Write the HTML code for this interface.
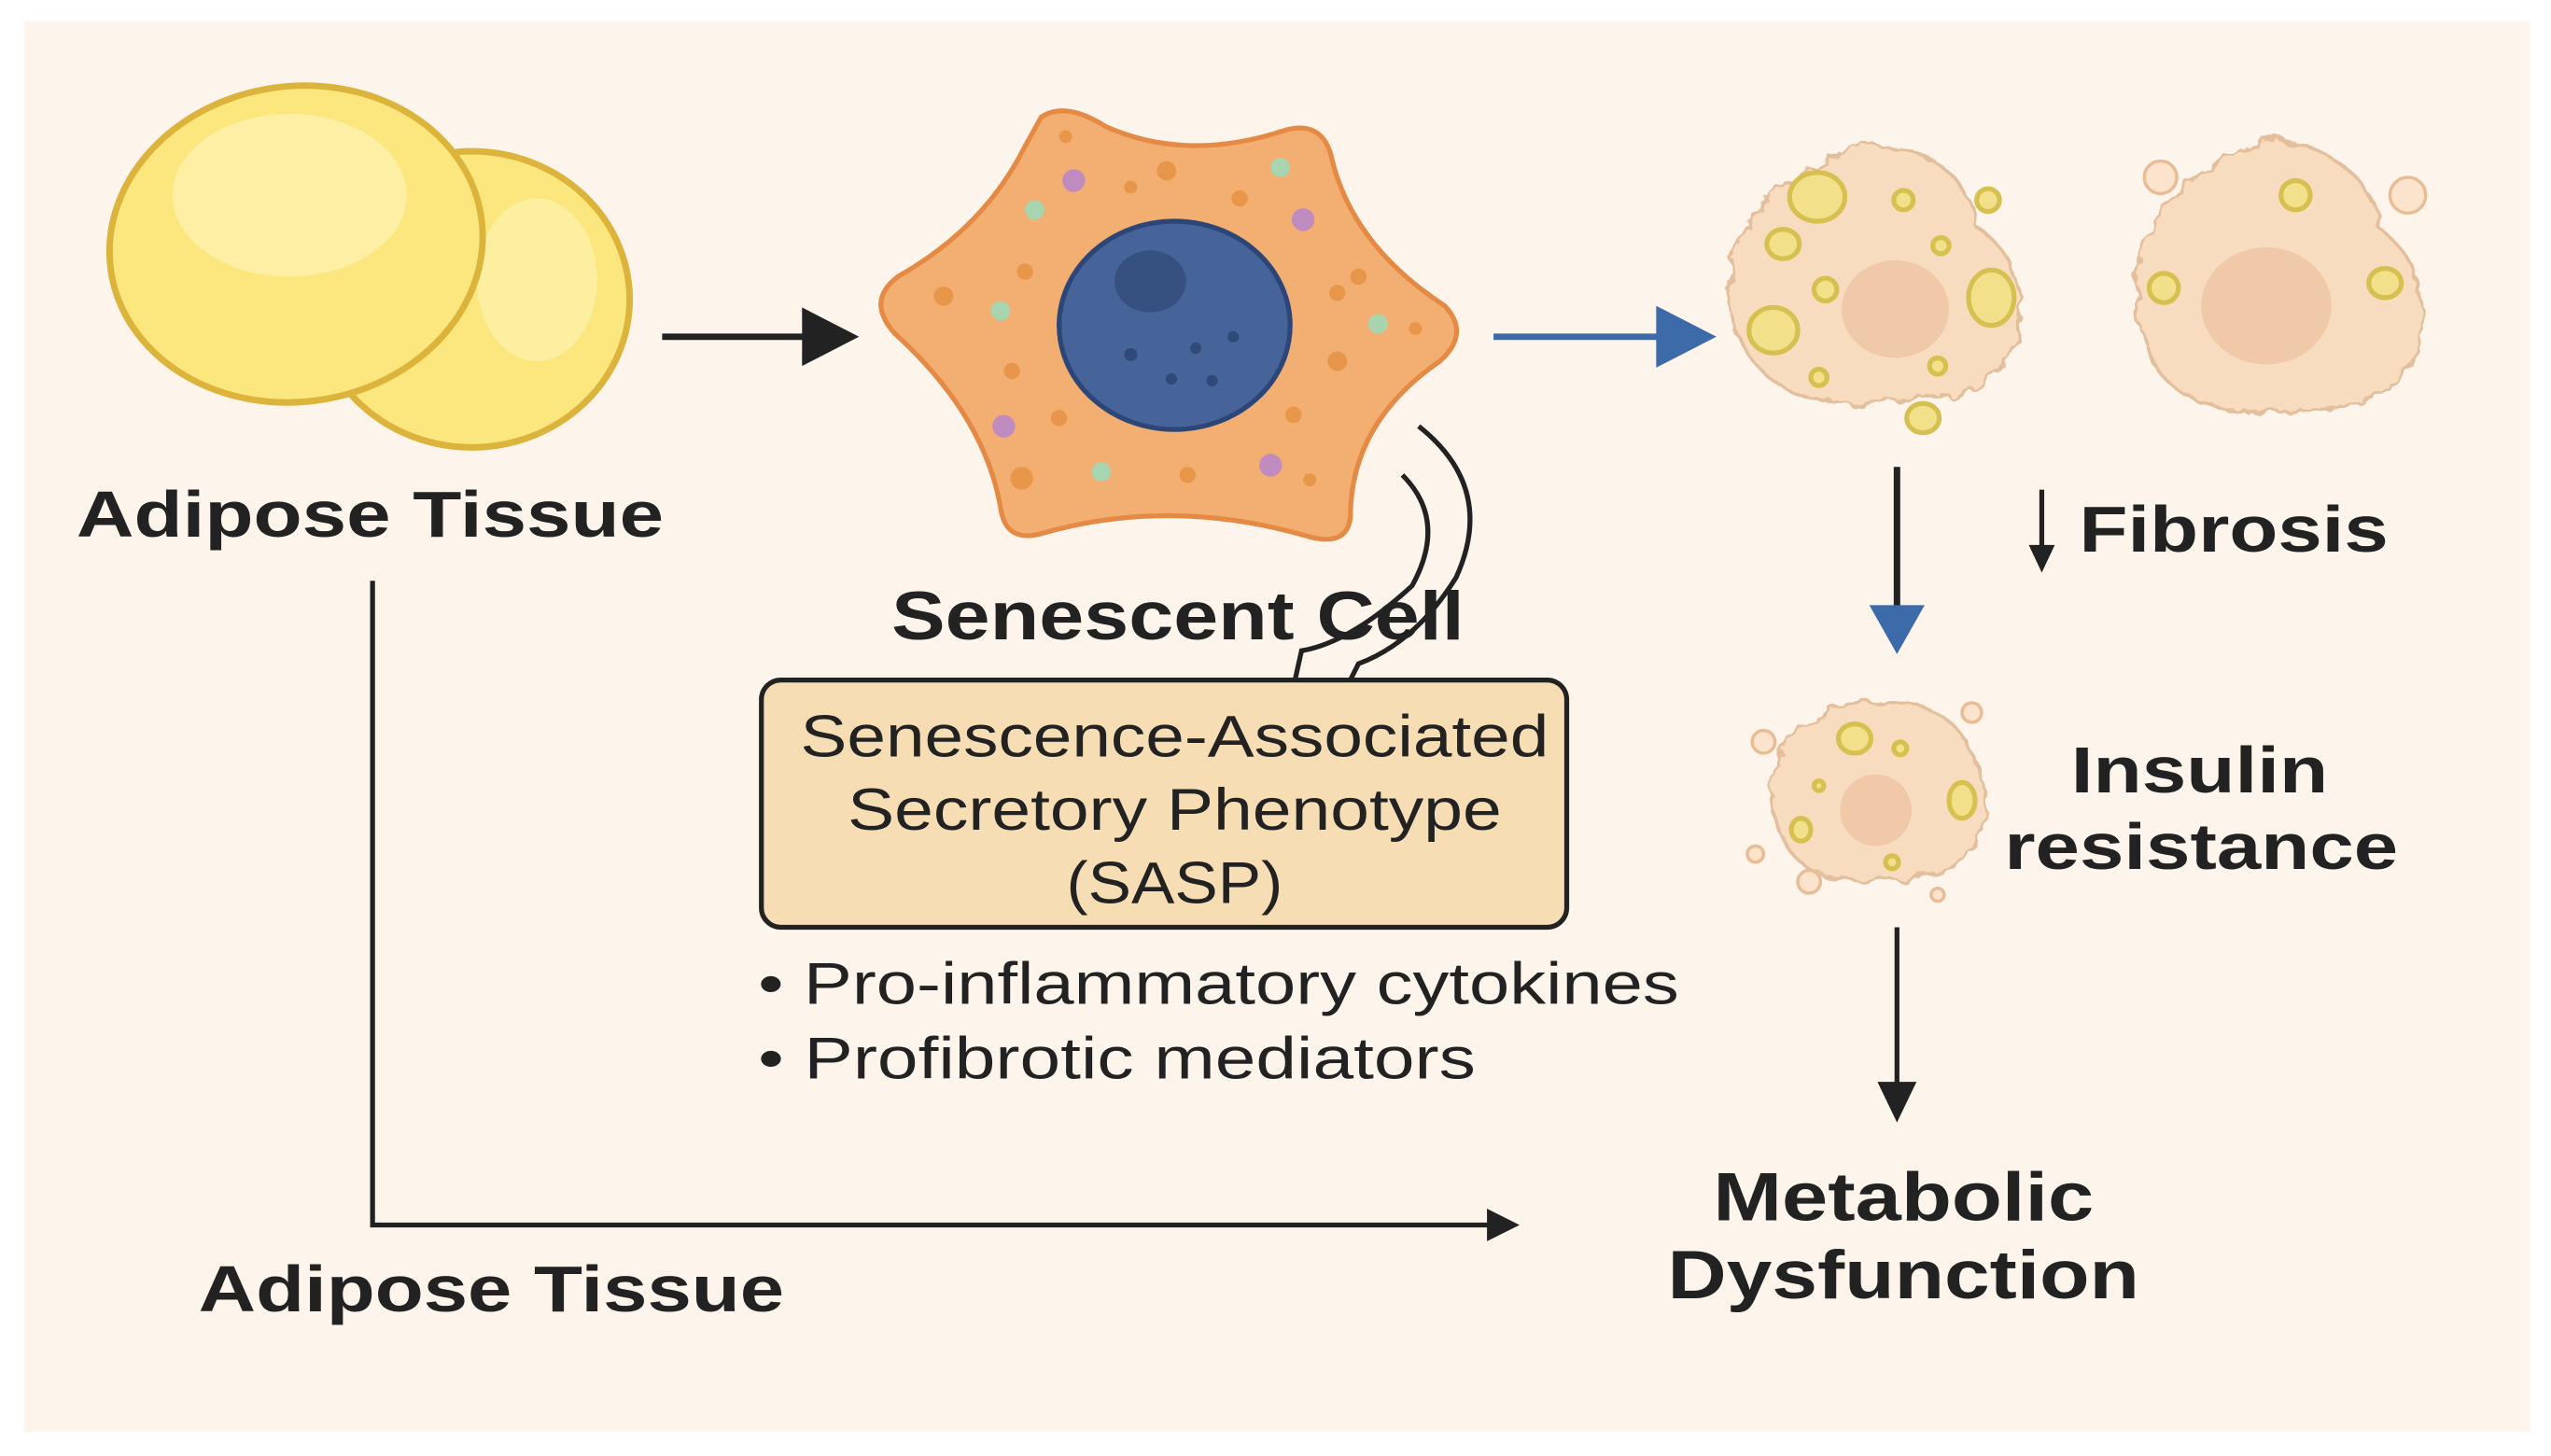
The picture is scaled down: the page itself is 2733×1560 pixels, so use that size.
<!DOCTYPE html>
<html><head><meta charset="utf-8"><style>
html,body{margin:0;padding:0;background:#fff;}
svg{display:block;}
text{font-family:"Liberation Sans",Arial,sans-serif;fill:#222;}
</style></head><body>
<svg width="2733" height="1560" viewBox="0 0 1568 895" preserveAspectRatio="none" xmlns="http://www.w3.org/2000/svg">
<defs>
<filter id="rough" x="-10%" y="-10%" width="120%" height="120%">
<feTurbulence type="fractalNoise" baseFrequency="0.08" numOctaves="3" seed="3"/>
<feDisplacementMap in="SourceGraphic" scale="9"/>
</filter>
<marker id="ah" viewBox="0 0 10 10" refX="9" refY="5" markerWidth="6" markerHeight="6" orient="auto"><path d="M0,0 L10,5 L0,10 L3,5 Z" fill="#222"/></marker>
</defs>
<rect x="0" y="0" width="1568" height="895" fill="#fff"/>
<rect x="15" y="13" width="1540" height="867" fill="#fdf5ec"/>

<!-- adipose cells -->
<ellipse cx="290" cy="184" rx="97" ry="91" fill="#fce77f" stroke="#dcb43c" stroke-width="4"/>
<ellipse cx="330" cy="172" rx="37" ry="50" fill="#fdefa0"/>
<ellipse cx="182" cy="150" rx="115" ry="97" transform="rotate(-8 182 150)" fill="#fce77f" stroke="#dcb43c" stroke-width="4"/>
<ellipse cx="178" cy="120" rx="72" ry="50" fill="#fdf0a5"/>
<text x="47" y="330" font-size="40" font-weight="bold" textLength="361" lengthAdjust="spacingAndGlyphs">Adipose Tissue</text>

<!-- arrow 1 -->
<line x1="407" y1="207" x2="505" y2="207" stroke="#222" stroke-width="4"/>
<path d="M493,189 L528,207 L493,225 Z" fill="#222"/>

<!-- senescent cell -->
<path d="M640,72 Q655,62 680,78 Q730,100 790,80 Q812,74 818,95 Q830,150 888,188 Q904,205 885,222 Q830,260 830,318 Q828,336 805,330 Q720,305 640,328 Q618,334 615,312 Q605,255 550,205 Q532,185 552,170 Q605,140 630,90 Z" fill="#f3ae72" stroke="#e58a45" stroke-width="3"/>
<g>
<circle cx="655" cy="84" r="4" fill="#e8974a"/><circle cx="660" cy="111" r="7" fill="#c08cc0"/><circle cx="695" cy="115" r="4" fill="#e8974a"/><circle cx="717" cy="105" r="6" fill="#e8974a"/>
<circle cx="787" cy="103" r="6" fill="#a8d4b0"/><circle cx="762" cy="122" r="5" fill="#e8974a"/><circle cx="801" cy="135" r="7" fill="#c08cc0"/><circle cx="636" cy="129" r="6" fill="#a8d4b0"/>
<circle cx="630" cy="167" r="5" fill="#e8974a"/><circle cx="580" cy="182" r="6" fill="#e8974a"/><circle cx="615" cy="191" r="6" fill="#a8d4b0"/><circle cx="622" cy="228" r="5" fill="#e8974a"/>
<circle cx="617" cy="262" r="7" fill="#c08cc0"/><circle cx="651" cy="257" r="5" fill="#e8974a"/><circle cx="628" cy="294" r="7" fill="#e8974a"/><circle cx="677" cy="290" r="6" fill="#a8d4b0"/>
<circle cx="730" cy="292" r="5" fill="#e8974a"/><circle cx="781" cy="286" r="7" fill="#c08cc0"/><circle cx="805" cy="295" r="4" fill="#e8974a"/><circle cx="795" cy="255" r="5" fill="#e8974a"/>
<circle cx="822" cy="222" r="6" fill="#e8974a"/><circle cx="847" cy="199" r="6" fill="#a8d4b0"/><circle cx="870" cy="202" r="4" fill="#e8974a"/><circle cx="835" cy="170" r="5" fill="#e8974a"/><circle cx="822" cy="180" r="5" fill="#e8974a"/>
</g>
<ellipse cx="722" cy="200" rx="71" ry="64" fill="#46639a" stroke="#2c4677" stroke-width="3"/>
<ellipse cx="707" cy="173" rx="22" ry="19" fill="#36507f"/>
<circle cx="695" cy="218" r="4" fill="#2f4a78"/><circle cx="735" cy="214" r="3.5" fill="#2f4a78"/><circle cx="758" cy="207" r="3.5" fill="#2f4a78"/><circle cx="720" cy="233" r="3.5" fill="#2f4a78"/><circle cx="745" cy="234" r="3.5" fill="#2f4a78"/>

<text x="548" y="393" font-size="42" font-weight="bold" textLength="352" lengthAdjust="spacingAndGlyphs">Senescent Cell</text>
<!-- squiggles -->
<path d="M872,262 Q920,300 895,355 Q870,395 835,408 L830,418" fill="none" stroke="#222" stroke-width="3"/>
<path d="M862,292 Q890,320 868,360 Q830,395 800,400 L796,418" fill="none" stroke="#222" stroke-width="3"/>

<!-- SASP box -->
<rect x="468" y="418" width="495" height="152" rx="12" fill="#f6ddb4" stroke="#222" stroke-width="3"/>
<text x="722" y="465" font-size="36" text-anchor="middle" textLength="460" lengthAdjust="spacingAndGlyphs">Senescence-Associated</text>
<text x="722" y="510" font-size="36" text-anchor="middle" textLength="402" lengthAdjust="spacingAndGlyphs">Secretory Phenotype</text>
<text x="722" y="555" font-size="36" text-anchor="middle" textLength="133" lengthAdjust="spacingAndGlyphs">(SASP)</text>
<text x="466" y="617" font-size="36" textLength="566" lengthAdjust="spacingAndGlyphs">• Pro-inflammatory cytokines</text>
<text x="466" y="663" font-size="36" textLength="441" lengthAdjust="spacingAndGlyphs">• Profibrotic mediators</text>

<!-- blue arrow -->
<line x1="918" y1="207" x2="1030" y2="207" stroke="#3d6aa8" stroke-width="4"/>
<path d="M1018,188 L1055,207 L1018,226 Z" fill="#3d6aa8"/>

<!-- blob 1 -->
<g filter="url(#rough)">
<path d="M1150,88 Q1210,95 1215,140 Q1248,160 1240,210 Q1220,250 1170,245 Q1110,255 1085,230 Q1055,200 1065,160 Q1080,110 1150,88 Z" fill="#f8dcbf" stroke="#e3bf9d" stroke-width="2"/>
</g>
<ellipse cx="1165" cy="190" rx="33" ry="30" fill="#efc9a8"/>
<g fill="#f3e08a" stroke="#d6c050" stroke-width="3">
<ellipse cx="1117" cy="121" rx="17" ry="15"/><ellipse cx="1224" cy="183" rx="14" ry="17"/><ellipse cx="1090" cy="203" rx="15" ry="14"/>
<ellipse cx="1096" cy="150" rx="10" ry="9"/><ellipse cx="1122" cy="178" rx="7" ry="7"/><circle cx="1170" cy="123" r="6"/><circle cx="1222" cy="123" r="7"/>
<circle cx="1193" cy="151" r="5"/><circle cx="1118" cy="232" r="5"/><circle cx="1191" cy="225" r="5"/><ellipse cx="1182" cy="257" rx="10" ry="9"/>
</g>
<!-- blob 2 -->
<g filter="url(#rough)">
<path d="M1400,85 Q1460,100 1462,140 Q1495,165 1488,210 Q1470,255 1410,252 Q1345,258 1325,225 Q1305,190 1318,150 Q1340,100 1400,85 Z" fill="#f8dcbf" stroke="#e3bf9d" stroke-width="2"/>
</g>
<ellipse cx="1393" cy="188" rx="40" ry="36" fill="#efc9a8"/>
<g fill="#f3e08a" stroke="#d6c050" stroke-width="3">
<ellipse cx="1411" cy="120" rx="9" ry="9"/><ellipse cx="1330" cy="177" rx="9" ry="9"/><ellipse cx="1466" cy="174" rx="10" ry="9"/>
</g>
<circle cx="1328" cy="109" r="10" fill="#fbe3cc" stroke="#e8bd96" stroke-width="2"/>
<circle cx="1480" cy="120" r="11" fill="#fbe3cc" stroke="#e8bd96" stroke-width="2"/>

<!-- down arrow blue head -->
<line x1="1166" y1="287" x2="1166" y2="380" stroke="#222" stroke-width="4"/>
<path d="M1149,372 L1166,402 L1183,372 Z" fill="#3d6aa8"/>
<line x1="1255" y1="301" x2="1255" y2="345" stroke="#222" stroke-width="3"/>
<path d="M1247,335 L1255,352 L1263,335 Z" fill="#222"/>
<text x="1278" y="339" font-size="40" font-weight="bold" textLength="190" lengthAdjust="spacingAndGlyphs">Fibrosis</text>

<!-- insulin blob -->
<g filter="url(#rough)">
<path d="M1150,430 Q1200,432 1210,460 Q1228,490 1215,515 Q1195,545 1155,540 Q1110,545 1095,515 Q1082,485 1098,458 Q1115,432 1150,430 Z" fill="#f8dcbf" stroke="#e3bf9d" stroke-width="2"/>
</g>
<ellipse cx="1153" cy="498" rx="22" ry="22" fill="#efc9a8"/>
<g fill="#f3e08a" stroke="#d6c050" stroke-width="3">
<ellipse cx="1140" cy="454" rx="10" ry="9"/><ellipse cx="1206" cy="492" rx="8" ry="11"/><ellipse cx="1107" cy="510" rx="6" ry="7"/><circle cx="1168" cy="460" r="4"/><circle cx="1118" cy="483" r="3"/><circle cx="1163" cy="530" r="4"/>
</g>
<g fill="#fbe3cc" stroke="#e8bd96" stroke-width="2"><circle cx="1084" cy="456" r="7"/><circle cx="1212" cy="438" r="6"/><circle cx="1079" cy="525" r="5"/><circle cx="1112" cy="542" r="7"/><circle cx="1191" cy="550" r="4"/></g>
<text x="1352" y="487" font-size="40" font-weight="bold" text-anchor="middle" textLength="158" lengthAdjust="spacingAndGlyphs">Insulin</text>
<text x="1353" y="534" font-size="40" font-weight="bold" text-anchor="middle" textLength="242" lengthAdjust="spacingAndGlyphs">resistance</text>

<line x1="1166" y1="570" x2="1166" y2="675" stroke="#222" stroke-width="3"/>
<path d="M1154,665 L1166,690 L1178,665 Z" fill="#222"/>
<text x="1170" y="750" font-size="42" font-weight="bold" text-anchor="middle" textLength="234" lengthAdjust="spacingAndGlyphs">Metabolic</text>
<text x="1170" y="798" font-size="42" font-weight="bold" text-anchor="middle" textLength="290" lengthAdjust="spacingAndGlyphs">Dysfunction</text>

<!-- L connector -->
<path d="M229,357 L229,753 L918,753" fill="none" stroke="#222" stroke-width="3"/>
<path d="M914,743 L934,753 L914,763 Z" fill="#222"/>
<text x="122" y="806" font-size="40" font-weight="bold" textLength="360" lengthAdjust="spacingAndGlyphs">Adipose Tissue</text>
</svg>
</body></html>
